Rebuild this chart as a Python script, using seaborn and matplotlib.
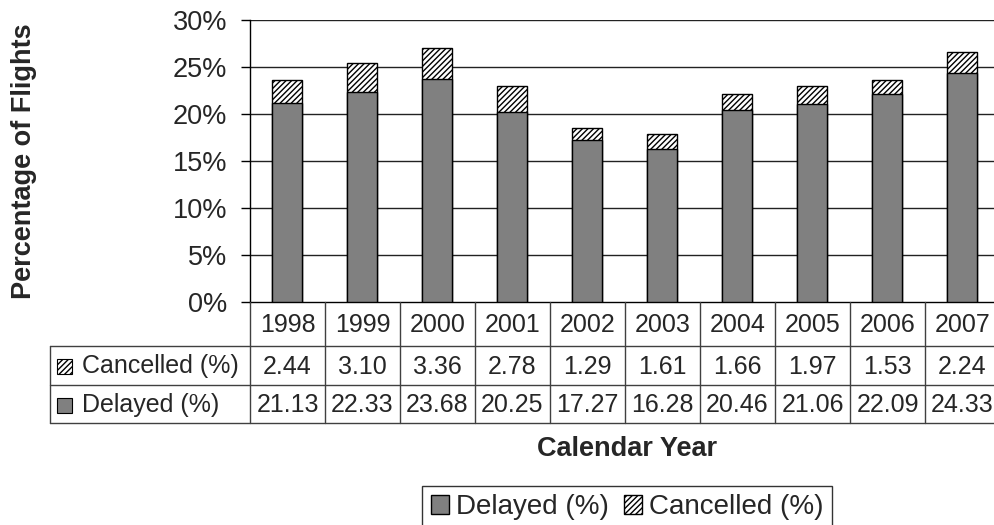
import seaborn as sns
import matplotlib.pyplot as plt
import pandas as pd
from matplotlib.patches import Patch, Rectangle

sns.set_style("white")
plt.rcParams['font.family'] = ['Liberation Sans', 'DejaVu Sans']
plt.rcParams['hatch.linewidth'] = 1.0

# data
years = ["1998", "1999", "2000", "2001", "2002", "2003", "2004", "2005", "2006", "2007"]
delayed = [21.13, 22.33, 23.68, 20.25, 17.27, 16.28, 20.46, 21.06, 22.09, 24.33]
cancelled = [2.44, 3.10, 3.36, 2.78, 1.29, 1.61, 1.66, 1.97, 1.53, 2.24]
yticks = [0, 5, 10, 15, 20, 25, 30]

df = pd.DataFrame({"year": years, "delayed": delayed, "cancelled": cancelled})
df["total"] = df["delayed"] + df["cancelled"]

GRAY = "#808080"
HATCH = "//////"
FS = 18        # table text
FS_TICK = 19.5
FS_TITLE = 19.5
FS_LEG = 20

W, H = 994, 525
fig = plt.figure(figsize=(W / 100, H / 100), dpi=100)

# plot area: 250..1000 px wide, 20..302 px tall
ax = fig.add_axes([250 / W, 1 - 302 / H, 750 / W, 282 / H])
sns.barplot(data=df, x="year", y="total", order=years, color="white",
            saturation=1, width=0.4, edgecolor="black", linewidth=1,
            hatch=HATCH, ax=ax, zorder=3)
sns.barplot(data=df, x="year", y="delayed", order=years, color=GRAY,
            saturation=1, width=0.4, edgecolor="black", linewidth=1,
            ax=ax, zorder=4)

ax.set_xlim(-0.5, len(years) - 0.5)
ax.set_ylim(0, 30)
ax.set_yticks(yticks)
ax.set_yticklabels([f"{t}%" for t in yticks], fontsize=FS_TICK)
ax.set_xticks([])
ax.set_xlabel("")
ax.set_ylabel("")
ax.tick_params(axis="y", left=True, length=6.5, width=1, pad=10, color="black")
for t in yticks[1:]:
    ax.axhline(t, color="#222222", lw=1, zorder=1)
for s in ["top", "right"]:
    ax.spines[s].set_visible(False)
ax.spines["left"].set_color("black")
ax.spines["bottom"].set_color("black")
ax.spines["left"].set_linewidth(1)
ax.spines["bottom"].set_linewidth(1)

# data table under the plot: 50..1000 px wide, 302..423 px tall
tax = fig.add_axes([50 / W, 1 - 423 / H, 950 / W, 121 / H])
x_left = -0.5 - 200 / 75
tax.set_xlim(x_left, len(years) - 0.5)
tax.set_ylim(121, 0)
tax.axis("off")
line_kw = dict(color="#404040", lw=1, clip_on=False)
for k in range(len(years) + 1):
    tax.plot([k - 0.5, k - 0.5], [0, 121], **line_kw)
tax.plot([x_left, x_left], [44, 121], **line_kw)
for yy in [44, 83, 121]:
    tax.plot([x_left, len(years) - 0.5], [yy, yy], **line_kw)

for i, yr in enumerate(years):
    tax.text(i, 23, yr, ha="center", va="center", fontsize=FS)
    tax.text(i, 64.5, f"{cancelled[i]:.2f}", ha="center", va="center", fontsize=FS)
    tax.text(i, 103, f"{delayed[i]:.2f}", ha="center", va="center", fontsize=FS)

sw_x = -0.5 + (57 - 250) / 75
sw_w = 15 / 75
tax.add_patch(Rectangle((sw_x, 64.5 - 7.5), sw_w, 15, facecolor="white",
                        edgecolor="black", hatch=HATCH, lw=0.8))
tax.add_patch(Rectangle((sw_x, 103 - 7.5), sw_w, 15, facecolor=GRAY,
                        edgecolor="black", lw=0.8))
txt_x = -0.5 + (82 - 250) / 75
tax.text(txt_x, 64.5, "Cancelled (%)", ha="left", va="center", fontsize=FS)
tax.text(txt_x, 103, "Delayed (%)", ha="left", va="center", fontsize=FS)

# axis titles
fig.text(24 / W, 1 - 161 / H, "Percentage of Flights", rotation=90,
         ha="center", va="center", fontsize=FS_TITLE, fontweight="bold")
fig.text(627 / W, 1 - 449 / H, "Calendar Year", ha="center", va="center",
         fontsize=FS_TITLE, fontweight="bold")

handles = [Patch(facecolor=GRAY, edgecolor="black", label="Delayed (%)"),
           Patch(facecolor="white", edgecolor="black", hatch=HATCH,
                 label="Cancelled (%)")]
leg = fig.legend(handles=handles, loc="upper center", ncol=2,
                 bbox_to_anchor=(627 / W, 1 - 486 / H), fontsize=FS_LEG,
                 frameon=True, fancybox=False, edgecolor="black",
                 handlelength=0.65, handleheight=0.65, handletextpad=0.25,
                 columnspacing=0.55, borderpad=0.3, borderaxespad=0)
leg.get_frame().set_linewidth(1)

fig.savefig("out.png", dpi=100)
